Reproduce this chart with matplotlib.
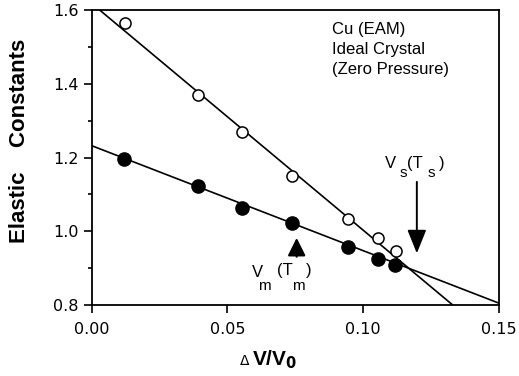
import matplotlib.pyplot as plt
import numpy as np

# data
dv = [0.0124, 0.0392, 0.0555, 0.0738, 0.0946, 0.1056, 0.1120]
c_open = [1.564, 1.369, 1.269, 1.151, 1.032, 0.982, 0.947]
dv_fill = [0.0118, 0.0390, 0.0553, 0.0738, 0.0946, 0.1056, 0.1117]
c_fill = [1.195, 1.124, 1.062, 1.023, 0.957, 0.926, 0.909]

# fitted lines (end points)
fit_open_x = [0.0, 0.1330]
fit_open_y = [1.618, 0.800]
fit_fill_x = [0.0, 0.150]
fit_fill_y = [1.232, 0.805]

xticks = [0.00, 0.05, 0.10, 0.15]
xlabels = ["0.00", "0.05", "0.10", "0.15"]
yticks = [0.8, 1.0, 1.2, 1.4, 1.6]
ylabels = ["0.8", "1.0", "1.2", "1.4", "1.6"]

plt.rcParams['font.family'] = ['Liberation Sans', 'DejaVu Sans']

fig = plt.figure(figsize=(5.19, 3.76), dpi=100)
ax = fig.add_axes([0.177, 0.189, 0.784, 0.784])

ax.plot(fit_open_x, fit_open_y, color='black', lw=1.2, zorder=2)
ax.plot(fit_fill_x, fit_fill_y, color='black', lw=1.2, zorder=2)
ax.plot(dv, c_open, 'o', ms=8, mfc='white', mec='black', mew=1.1, zorder=3)
ax.plot(dv_fill, c_fill, 'o', ms=9.5, mfc='black', mec='black', zorder=3)

ax.set_xlim(0, 0.15)
ax.set_ylim(0.8, 1.6)
ax.set_xticks(xticks)
ax.set_xticklabels(xlabels, family='DejaVu Sans')
ax.set_yticks(yticks)
ax.set_yticklabels(ylabels, family='DejaVu Sans')
ax.set_yticks(np.arange(0.9, 1.6, 0.2), minor=True)
ax.tick_params(direction='out', length=6, width=1.2, labelsize=11.5)
ax.tick_params(axis='x', pad=6)
ax.tick_params(which='minor', direction='out', length=3, width=1.2)
for s in ax.spines.values():
    s.set_linewidth(1.3)

# axis labels
ax.text(-0.178, 0.555, "Elastic    Constants", transform=ax.transAxes,
        rotation=90, fontsize=16, fontweight='bold', ha='center', va='center')
ax.text(0.0585, 0.637, r"$\Delta$", fontsize=10, ha='right', va='baseline')
ax.text(0.0590, 0.637, r"V/V$_\mathbf{0}$", fontsize=15, fontweight='bold',
        ha='left', va='baseline')

ax.text(0.0884, 1.567, "Cu (EAM)\nIdeal Crystal\n(Zero Pressure)", fontsize=12,
        va='top', ha='left', linespacing=1.4)

# V_s(T_s) annotation
ax.annotate("", xy=(0.1198, 0.940), xytext=(0.1198, 1.134),
            arrowprops=dict(arrowstyle='-|>,head_length=0.72,head_width=0.29',
                            color='black', lw=1.4, mutation_scale=20,
                            shrinkA=0, shrinkB=0))
ax.text(0.1080, 1.1715, "V", fontsize=12, va='baseline')
ax.text(0.1135, 1.147, "s", fontsize=11, va='baseline')
ax.text(0.1160, 1.1715, "(T", fontsize=12, va='baseline')
ax.text(0.1236, 1.147, "s", fontsize=11, va='baseline')
ax.text(0.1281, 1.1715, ")", fontsize=12, va='baseline')

# V_m(T_m) annotation
ax.annotate("", xy=(0.0755, 0.982), xytext=(0.0755, 0.931),
            arrowprops=dict(arrowstyle='-|>,head_length=0.54,head_width=0.27',
                            color='black', lw=1.6, mutation_scale=20,
                            shrinkA=0, shrinkB=0))
ax.text(0.0590, 0.876, "V", fontsize=12, va='baseline')
ax.text(0.0612, 0.841, "m", fontsize=11, va='baseline')
ax.text(0.0683, 0.880, "(T", fontsize=12, va='baseline')
ax.text(0.0738, 0.841, "m", fontsize=11, va='baseline')
ax.text(0.0790, 0.880, ")", fontsize=12, va='baseline')

fig.savefig("out.png", dpi=100)
